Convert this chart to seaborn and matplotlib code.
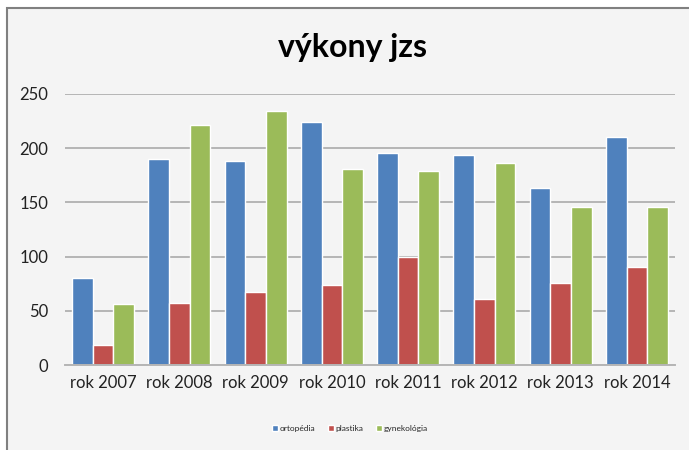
import pandas as pd
import matplotlib.pyplot as plt
import seaborn as sns
from matplotlib.patches import Rectangle

# Chart data
years = ['rok 2007', 'rok 2008', 'rok 2009', 'rok 2010',
         'rok 2011', 'rok 2012', 'rok 2013', 'rok 2014']
ortopedia = [80, 190, 188, 224, 196, 194, 163, 210]
plastika = [18, 57, 67, 74, 100, 61, 76, 90]
gynekologia = [56, 221, 234, 181, 179, 186, 146, 146]
series_names = ['ortopédia', 'plastika', 'gynekológia']
colors = ['#4F81BD', '#C0504D', '#9BBB59']


def build_frame():
    # Long format for seaborn
    rows = []
    for name, vals in zip(series_names, [ortopedia, plastika, gynekologia]):
        for y, v in zip(years, vals):
            rows.append({'rok': y, 'séria': name, 'výkony': v})
    return pd.DataFrame(rows)


def create_chart(data):
    sns.set_style('white')
    plt.rcParams['font.family'] = ['Lato', 'DejaVu Sans']

    fig = plt.figure(figsize=(6.89, 4.50), dpi=100)
    fig.patch.set_facecolor('white')
    # chart area background with border (left/top visible)
    fig.patches.append(Rectangle((7 / 689, -0.1), 1.1, (450 - 8) / 450 + 0.1,
                                 transform=fig.transFigure, facecolor='#F4F4F4',
                                 edgecolor='#808080', linewidth=1.5, zorder=-10))

    ax = fig.add_axes([65 / 689, 85 / 450, 610 / 689, 271 / 450])
    ax.set_facecolor('none')
    sns.barplot(data=data, x='rok', y='výkony', hue='séria', palette=colors,
                width=0.81, saturation=1, ax=ax, legend=True)

    ax.set_ylim(0, 250)
    ax.set_yticks(range(0, 251, 50))
    ax.yaxis.grid(True, color='#B5B5B5', linewidth=1.4)
    ax.set_axisbelow(True)
    for side in ['top', 'right', 'left']:
        ax.spines[side].set_visible(False)
    ax.spines['bottom'].set_color('#B5B5B5')
    ax.spines['bottom'].set_linewidth(1.4)
    ax.tick_params(axis='y', length=0, pad=12, labelsize=12, labelcolor='#222222')
    ax.tick_params(axis='x', length=0, pad=7, labelsize=12, labelcolor='#222222')
    ax.set_xlabel('')
    ax.set_ylabel('')

    fig.text(352 / 689, 1 - 48 / 450, 'výkony jzs', ha='center', va='center',
             fontsize=23, fontweight='bold', color='black')

    ax.legend(loc='center', bbox_to_anchor=(350 / 689, 1 - 428 / 450),
              bbox_transform=fig.transFigure, ncol=3, frameon=False,
              fontsize=6, handlelength=0.7, handleheight=0.7,
              handletextpad=0.2, columnspacing=1.5)

    fig.savefig('out.png', dpi=100, facecolor=fig.get_facecolor())


if __name__ == "__main__":
    create_chart(build_frame())
